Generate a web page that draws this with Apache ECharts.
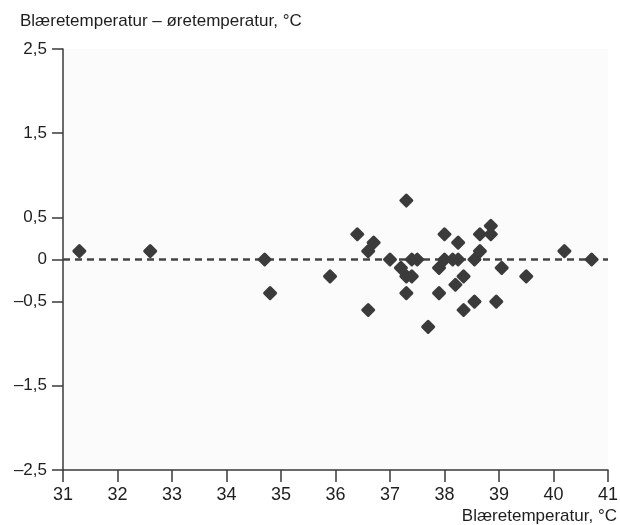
<!DOCTYPE html>
<html>
<head>
<meta charset="utf-8">
<script src="https://cdn.jsdelivr.net/npm/echarts@6/dist/echarts.min.js"></script>
<style>
  html, body { margin: 0; padding: 0; background: #fff; }
  #chart { width: 620px; height: 525px; }
</style>
</head>
<body>
<div id="chart"></div>
<script>
// Blæretemperatur (x) og differanse blære – øre (y)
const bladderTemp = [
  31.3, 32.6, 34.7, 34.8, 35.9, 36.4, 36.6, 36.7, 36.6, 37.0,
  37.2, 37.3, 37.4, 37.3, 37.4, 37.5, 37.3, 37.7, 37.9, 37.9,
  38.0, 38.0, 38.15, 38.25, 38.25, 38.2, 38.35, 38.35, 38.55, 38.55,
  38.65, 38.65, 38.85, 38.85, 38.95, 39.05, 39.5, 40.2, 40.7
]
const tempDiff = [
  0.1, 0.1, 0, -0.4, -0.2, 0.3, 0.1, 0.2, -0.6, 0,
  -0.1, -0.2, -0.2, 0.7, 0, 0, -0.4, -0.8, -0.1, -0.4,
  0.3, 0, 0, 0, 0.2, -0.3, -0.2, -0.6, 0, -0.5,
  0.1, 0.3, 0.4, 0.3, -0.5, -0.1, -0.2, 0.1, 0
]
const xTicks = [31, 32, 33, 34, 35, 36, 37, 38, 39, 40, 41]
const yTicks = [2.5, 1.5, 0.5, 0, -0.5, -1.5, -2.5]

const fontFamily = '"Liberation Sans", Arial, sans-serif'
const axisColor = '#3a3a3a'
const textColor = '#1e1e1e'

const fmt = v => (v === 0 ? '0' : String(v).replace('.', ',').replace('-', '\u2013'))

const chart = echarts.init(document.getElementById('chart'))

const option = {
  animation: false,
  backgroundColor: '#fff',
  title: [
    {
      text: 'Blæretemperatur \u2013 øretemperatur, °C',
      left: 20,
      top: 13,
      padding: 0,
      textStyle: { fontFamily, fontSize: 17, fontWeight: 'normal', color: textColor }
    },
    {
      text: 'Blæretemperatur, °C',
      right: 3,
      bottom: 0,
      padding: 0,
      textStyle: { fontFamily, fontSize: 17, fontWeight: 'normal', color: textColor }
    }
  ],
  grid: {
    left: 63,
    right: 12,
    top: 49,
    bottom: 55,
    show: true,
    backgroundColor: '#fbfbfb',
    borderWidth: 0,
    outerBoundsMode: 'none'
  },
  xAxis: {
    type: 'value',
    min: 31,
    max: 41,
    interval: 1,
    axisLine: { onZero: false, lineStyle: { color: axisColor, width: 1.5 } },
    axisTick: { show: true, length: 12, lineStyle: { color: axisColor, width: 1.5 }, customValues: xTicks },
    axisLabel: { fontFamily, fontSize: 18, color: textColor, margin: 16, customValues: xTicks },
    splitLine: { show: false }
  },
  yAxis: {
    type: 'value',
    min: -2.5,
    max: 2.5,
    interval: 0.5,
    axisLine: { show: true, onZero: false, lineStyle: { color: axisColor, width: 1.5 } },
    axisTick: { show: true, length: 11, lineStyle: { color: axisColor, width: 1.5 }, customValues: yTicks },
    axisLabel: { fontFamily, fontSize: 17, color: textColor, margin: 16, customValues: yTicks, formatter: fmt },
    splitLine: { show: false }
  },
  series: [
    {
      type: 'scatter',
      data: bladderTemp.map((x, i) => [x, tempDiff[i]]),
      symbol: 'diamond',
      symbolSize: 11,
      itemStyle: {
        color: '#3b3b3b',
        borderColor: '#3b3b3b',
        borderWidth: 3,
        borderJoin: 'round',
        opacity: 1
      },
      markLine: {
        silent: true,
        symbol: 'none',
        label: { show: false },
        lineStyle: { color: '#444', type: [7, 5], width: 2.5 },
        data: [{ yAxis: 0 }],
        z: 1
      },
      z: 3
    }
  ]
}

chart.setOption(option)
</script>
</body>
</html>
